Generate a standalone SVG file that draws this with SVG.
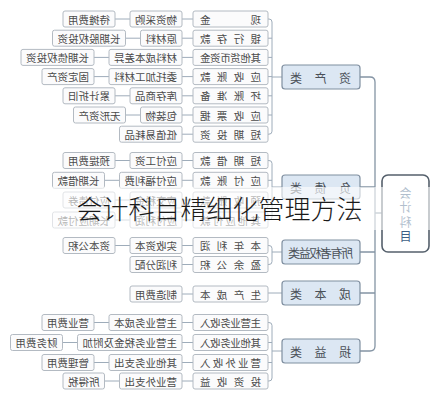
<svg xmlns="http://www.w3.org/2000/svg" width="439" height="400" viewBox="0 0 439 400">
<style>
text{font-family:"Noto Sans CJK SC","Noto Sans",sans-serif;}
.b{fill:#fbfbfc;stroke:#b3bac2;stroke-width:1;}
.t{font-size:10.5px;fill:#4a4a4a;text-anchor:middle;dominant-baseline:central;}
.j{font-size:10.5px;fill:#4a4a4a;dominant-baseline:central;}
.c{fill:#dce7f3;stroke:#7f8fa0;stroke-width:1.2;}
.ct{font-size:12px;fill:#4a5058;dominant-baseline:central;}
.r{fill:#ffffff;stroke:#55606c;stroke-width:1.6;}
.rt{font-size:12px;fill:#3d5f86;text-anchor:middle;dominant-baseline:central;}
.l{fill:none;stroke:#9eacba;stroke-width:1;}
.s{fill:none;stroke:#8494a4;stroke-width:1.3;}
</style>
<g transform="translate(439,0) scale(-1,1)">
<g id="connectors">
<path class="s" d="M79,77 H69 Q64,77 64,82 V346 Q64,351 69,351 H79 M64,187 H79 M64,252 H79 M64,293 H79 M57,213 H64"/>
<path class="l" d="M157,77 H167 M171,19 H170 Q167,19 167,22 V131.2 Q167,134.2 170,134.2 H171 M167,38.2 H171 M167,57.4 H171 M167,76.6 H171 M167,95.8 H171 M167,115 H171"/>
<path class="l" d="M157,187 H167 M171,160.5 H170 Q167,160.5 167,163.5 V217 Q167,220 170,220 H171 M167,180.3 H171 M167,200 H171"/>
<path class="l" d="M157,252 H167 M171,245.5 H170 Q167,245.5 167,248.5 V261.5 Q167,264.5 170,264.5 H171"/>
<path class="l" d="M157,293 H171"/>
<path class="l" d="M157,351 H167 M171,322.5 H170 Q167,322.5 167,325.5 V378 Q167,381 170,381 H171 M167,342.5 H171 M167,362.5 H171"/>
<path class="l" d="M246,19 H257 M309,19 H324 M246,38.2 H257 M298.5,38.2 H313.5 M246,57.4 H257 M330,57.4 H345 M246,76.6 H257 M330,76.6 H345 M246,95.8 H257 M309,95.8 H324 M246,115 H257 M298.5,115 H313.5 M246,134.2 H257"/>
<path class="l" d="M246,160.5 H257 M309,160.5 H324 M246,180.3 H257 M319.5,180.3 H334.5 M246,200 H257 M309,200 H324 M246,220 H257 M309,220 H324"/>
<path class="l" d="M246,245.5 H257 M309,245.5 H324 M246,264.5 H257 M246,294 H257"/>
<path class="l" d="M246,322.5 H257 M330,322.5 H345 M246,342.5 H257 M361.5,342.5 H376.5 M246,362.5 H257 M330,362.5 H345 M246,381 H257 M319.5,381 H334.5"/>
</g>
<g id="root"><rect class="r" x="10" y="175" width="47" height="77" rx="6"/>
<text class="rt" x="33.5" y="192">会</text><text class="rt" x="33.5" y="206.5">计</text><text class="rt" x="33.5" y="221">科</text><text class="rt" x="33.5" y="235.5">目</text></g>
<g id="cat-zichan"><rect class="c" x="79" y="65" width="78" height="24" rx="3"/><text class="ct" x="88" y="77" textLength="61" lengthAdjust="spacing">资产类</text></g>
<g id="cat-fuzhai"><rect class="c" x="79" y="175" width="78" height="24" rx="3"/><text class="ct" x="88" y="187" textLength="61" lengthAdjust="spacing">负债类</text></g>
<g id="cat-quanyi"><rect class="c" x="79" y="240" width="78" height="24" rx="3"/><text class="ct" x="86" y="252" textLength="65" lengthAdjust="spacing">所有者权益类</text></g>
<g id="cat-chengben"><rect class="c" x="79" y="281" width="78" height="24" rx="3"/><text class="ct" x="88" y="293" textLength="61" lengthAdjust="spacing">成本类</text></g>
<g id="cat-sunyi"><rect class="c" x="79" y="339" width="78" height="24" rx="3"/><text class="ct" x="88" y="351" textLength="61" lengthAdjust="spacing">损益类</text></g>

<g id="n-xianjin"><rect class="b" x="171" y="11" width="75" height="16" rx="2"/><text class="j" x="178" y="19" textLength="61" lengthAdjust="spacing">现金</text></g>
<g id="n-yinhang"><rect class="b" x="171" y="30.2" width="75" height="16" rx="2"/><text class="j" x="178" y="38.2" textLength="61" lengthAdjust="spacing">银行存款</text></g>
<g id="n-qitahuobi"><rect class="b" x="171" y="49.4" width="75" height="16" rx="2"/><text class="j" x="178" y="57.4" textLength="61" lengthAdjust="spacing">其他货币资金</text></g>
<g id="n-yingshou"><rect class="b" x="171" y="68.6" width="75" height="16" rx="2"/><text class="j" x="178" y="76.6" textLength="61" lengthAdjust="spacing">应收账款</text></g>
<g id="n-huaizhang"><rect class="b" x="171" y="87.8" width="75" height="16" rx="2"/><text class="j" x="178" y="95.8" textLength="61" lengthAdjust="spacing">坏账准备</text></g>
<g id="n-piaoju"><rect class="b" x="171" y="107" width="75" height="16" rx="2"/><text class="j" x="178" y="115" textLength="61" lengthAdjust="spacing">应收票据</text></g>
<g id="n-duanqitouzi"><rect class="b" x="171" y="126.2" width="75" height="16" rx="2"/><text class="j" x="178" y="134.2" textLength="61" lengthAdjust="spacing">短期投资</text></g>

<g id="n-wuzi"><rect class="b" x="257" y="11" width="52" height="16" rx="2"/><text class="t" x="283" y="19">物资采购</text></g>
<g id="n-yuancailiao"><rect class="b" x="257" y="30.2" width="41.5" height="16" rx="2"/><text class="t" x="277.75" y="38.2">原材料</text></g>
<g id="n-chayi"><rect class="b" x="257" y="49.4" width="73" height="16" rx="2"/><text class="t" x="293.5" y="57.4">材料成本差异</text></g>
<g id="n-weituo"><rect class="b" x="257" y="68.6" width="73" height="16" rx="2"/><text class="t" x="293.5" y="76.6">委托加工材料</text></g>
<g id="n-kucun"><rect class="b" x="257" y="87.8" width="52" height="16" rx="2"/><text class="t" x="283" y="95.8">库存商品</text></g>
<g id="n-baozhuang"><rect class="b" x="257" y="107" width="41.5" height="16" rx="2"/><text class="t" x="277.75" y="115">包装物</text></g>
<g id="n-dizhi"><rect class="b" x="257" y="126.2" width="62.5" height="16" rx="2"/><text class="t" x="288.25" y="134.2">低值易耗品</text></g>

<g id="n-daitan"><rect class="b" x="324" y="11" width="52" height="16" rx="2"/><text class="t" x="350" y="19">待摊费用</text></g>
<g id="n-guquan"><rect class="b" x="313.5" y="30.2" width="73" height="16" rx="2"/><text class="t" x="350" y="38.2">长期股权投资</text></g>
<g id="n-zhaiquan"><rect class="b" x="345" y="49.4" width="73" height="16" rx="2"/><text class="t" x="381.5" y="57.4">长期债权投资</text></g>
<g id="n-guding"><rect class="b" x="345" y="68.6" width="52" height="16" rx="2"/><text class="t" x="371" y="76.6">固定资产</text></g>
<g id="n-zhejiu"><rect class="b" x="324" y="87.8" width="52" height="16" rx="2"/><text class="t" x="350" y="95.8">累计折旧</text></g>
<g id="n-wuxing"><rect class="b" x="313.5" y="107" width="52" height="16" rx="2"/><text class="t" x="339.5" y="115">无形资产</text></g>

<g id="n-duanqijiekuan"><rect class="b" x="171" y="152.5" width="75" height="16" rx="2"/><text class="j" x="178" y="160.5" textLength="61" lengthAdjust="spacing">短期借款</text></g>
<g id="n-yingfuzhang"><rect class="b" x="171" y="172.3" width="75" height="16" rx="2"/><text class="j" x="178" y="180.3" textLength="61" lengthAdjust="spacing">应付账款</text></g>
<g id="n-yushou"><rect class="b" x="171" y="192" width="75" height="16" rx="2"/><text class="j" x="178" y="200" textLength="61" lengthAdjust="spacing">预收账款</text></g>
<g id="n-qitayingfu"><rect class="b" x="171" y="212" width="75" height="16" rx="2"/><text class="j" x="178" y="220" textLength="61" lengthAdjust="spacing">其他应付款</text></g>

<g id="n-gongzi"><rect class="b" x="257" y="152.5" width="52" height="16" rx="2"/><text class="t" x="283" y="160.5">应付工资</text></g>
<g id="n-fuli"><rect class="b" x="257" y="172.3" width="62.5" height="16" rx="2"/><text class="t" x="288.25" y="180.3">应付福利费</text></g>
<g id="n-shuijin"><rect class="b" x="257" y="192" width="52" height="16" rx="2"/><text class="t" x="283" y="200">应交税金</text></g>
<g id="n-lirun"><rect class="b" x="257" y="212" width="52" height="16" rx="2"/><text class="t" x="283" y="220">应付利润</text></g>

<g id="n-yuti"><rect class="b" x="324" y="152.5" width="52" height="16" rx="2"/><text class="t" x="350" y="160.5">预提费用</text></g>
<g id="n-changqijie"><rect class="b" x="334.5" y="172.3" width="52" height="16" rx="2"/><text class="t" x="360.5" y="180.3">长期借款</text></g>
<g id="n-zhaiquan2"><rect class="b" x="324" y="192" width="52" height="16" rx="2"/><text class="t" x="350" y="200">应付债券</text></g>
<g id="n-changqiyingfu"><rect class="b" x="324" y="212" width="62.5" height="16" rx="2"/><text class="t" x="355.25" y="220">长期应付款</text></g>

<g id="n-bennian"><rect class="b" x="171" y="237.5" width="75" height="16" rx="2"/><text class="j" x="178" y="245.5" textLength="61" lengthAdjust="spacing">本年利润</text></g>
<g id="n-yingyu"><rect class="b" x="171" y="256.5" width="75" height="16" rx="2"/><text class="j" x="178" y="264.5" textLength="61" lengthAdjust="spacing">盈余公积</text></g>
<g id="n-shishou"><rect class="b" x="257" y="237.5" width="52" height="16" rx="2"/><text class="t" x="283" y="245.5">实收资本</text></g>
<g id="n-fenpei"><rect class="b" x="257" y="256.5" width="52" height="16" rx="2"/><text class="t" x="283" y="264.5">利润分配</text></g>
<g id="n-gongji"><rect class="b" x="324" y="237.5" width="52" height="16" rx="2"/><text class="t" x="350" y="245.5">资本公积</text></g>

<g id="n-shengchan"><rect class="b" x="171" y="286" width="75" height="16" rx="2"/><text class="j" x="178" y="294" textLength="61" lengthAdjust="spacing">生产成本</text></g>
<g id="n-zhizao"><rect class="b" x="257" y="286" width="52" height="16" rx="2"/><text class="t" x="283" y="294">制造费用</text></g>

<g id="n-zhuyingshouru"><rect class="b" x="171" y="314.5" width="75" height="16" rx="2"/><text class="j" x="178" y="322.5" textLength="61" lengthAdjust="spacing">主营业务收入</text></g>
<g id="n-qitashouru"><rect class="b" x="171" y="334.5" width="75" height="16" rx="2"/><text class="j" x="178" y="342.5" textLength="61" lengthAdjust="spacing">其他业务收入</text></g>
<g id="n-yingyewai"><rect class="b" x="171" y="354.5" width="75" height="16" rx="2"/><text class="j" x="178" y="362.5" textLength="61" lengthAdjust="spacing">营业外收入</text></g>
<g id="n-touzi"><rect class="b" x="171" y="373" width="75" height="16" rx="2"/><text class="j" x="178" y="381" textLength="61" lengthAdjust="spacing">投资收益</text></g>

<g id="n-zhuyingchengben"><rect class="b" x="257" y="314.5" width="73" height="16" rx="2"/><text class="t" x="293.5" y="322.5">主营业务成本</text></g>
<g id="n-shuijinfujia"><rect class="b" x="257" y="334.5" width="104.5" height="16" rx="2"/><text class="t" x="309.25" y="342.5">主营业务税金及附加</text></g>
<g id="n-qitazhichu"><rect class="b" x="257" y="354.5" width="73" height="16" rx="2"/><text class="t" x="293.5" y="362.5">其他业务支出</text></g>
<g id="n-waizhichu"><rect class="b" x="257" y="373" width="62.5" height="16" rx="2"/><text class="t" x="288.25" y="381">营业外支出</text></g>

<g id="n-yingyefei"><rect class="b" x="345" y="314.5" width="52" height="16" rx="2"/><text class="t" x="371" y="322.5">营业费用</text></g>
<g id="n-caiwu"><rect class="b" x="376.5" y="334.5" width="52" height="16" rx="2"/><text class="t" x="402.5" y="342.5">财务费用</text></g>
<g id="n-guanli"><rect class="b" x="345" y="354.5" width="52" height="16" rx="2"/><text class="t" x="371" y="362.5">管理费用</text></g>
<g id="n-suodeshui"><rect class="b" x="334.5" y="373" width="41.5" height="16" rx="2"/><text class="t" x="355.25" y="381">所得税</text></g>
</g>
<rect x="0" y="187" width="439" height="43" fill="#ffffff" fill-opacity="0.6"/>
<text x="219.5" y="219" font-size="26" text-anchor="middle" fill="#1a1a1a" style="font-family:'Noto Sans CJK SC','Noto Sans',sans-serif;font-weight:300">会计科目精细化管理方法</text>
</svg>
